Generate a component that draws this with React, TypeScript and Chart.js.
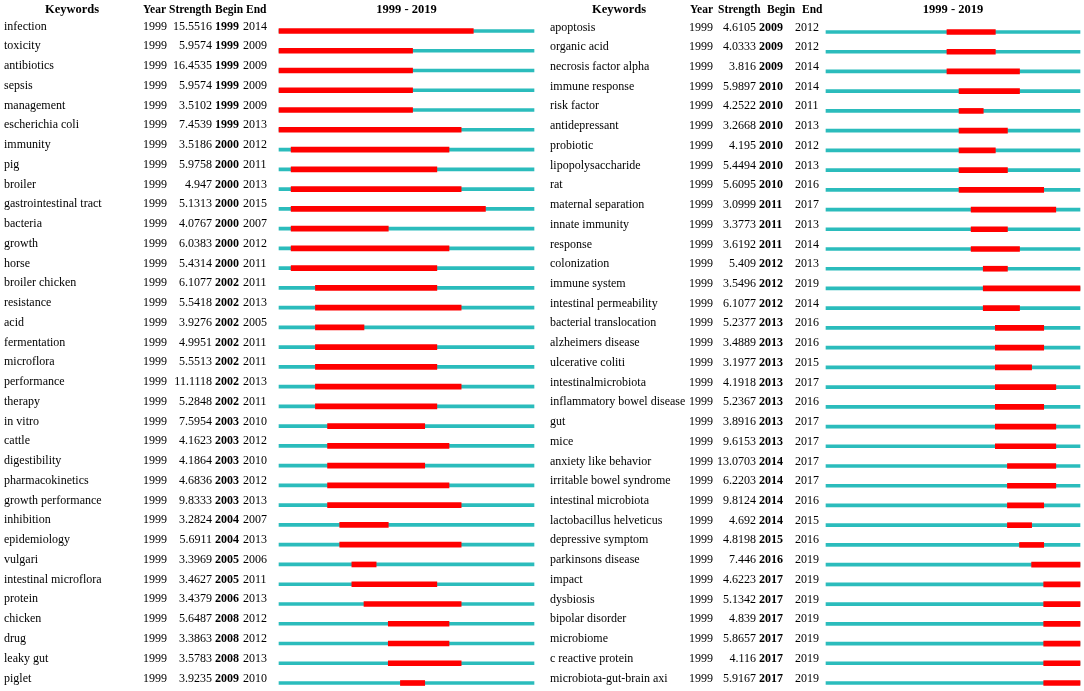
import React, { useEffect, useRef } from 'react';
import { Chart, registerables } from 'chart.js';

Chart.register(...registerables);

const RANGE_START = 1999;
const RANGE_END = 2019;

const leftKeywords = [
  'infection', 'toxicity', 'antibiotics', 'sepsis', 'management', 'escherichia coli',
  'immunity', 'pig', 'broiler', 'gastrointestinal tract', 'bacteria', 'growth', 'horse',
  'broiler chicken', 'resistance', 'acid', 'fermentation', 'microflora', 'performance',
  'therapy', 'in vitro', 'cattle', 'digestibility', 'pharmacokinetics', 'growth performance',
  'inhibition', 'epidemiology', 'vulgari', 'intestinal microflora', 'protein', 'chicken',
  'drug', 'leaky gut', 'piglet',
];
const leftYear = [
  1999, 1999, 1999, 1999, 1999, 1999, 1999, 1999, 1999, 1999, 1999, 1999, 1999, 1999, 1999, 1999, 1999,
  1999, 1999, 1999, 1999, 1999, 1999, 1999, 1999, 1999, 1999, 1999, 1999, 1999, 1999, 1999, 1999, 1999,
];
const leftStrength = [
  15.5516, 5.9574, 16.4535, 5.9574, 3.5102, 7.4539, 3.5186, 5.9758, 4.947, 5.1313, 4.0767,
  6.0383, 5.4314, 6.1077, 5.5418, 3.9276, 4.9951, 5.5513, 11.1118, 5.2848, 7.5954, 4.1623,
  4.1864, 4.6836, 9.8333, 3.2824, 5.6911, 3.3969, 3.4627, 3.4379, 5.6487, 3.3863, 3.5783, 3.9235,
];
const leftBegin = [
  1999, 1999, 1999, 1999, 1999, 1999, 2000, 2000, 2000, 2000, 2000, 2000, 2000, 2002, 2002, 2002, 2002,
  2002, 2002, 2002, 2003, 2003, 2003, 2003, 2003, 2004, 2004, 2005, 2005, 2006, 2008, 2008, 2008, 2009,
];
const leftEnd = [
  2014, 2009, 2009, 2009, 2009, 2013, 2012, 2011, 2013, 2015, 2007, 2012, 2011, 2011, 2013, 2005, 2011,
  2011, 2013, 2011, 2010, 2012, 2010, 2012, 2013, 2007, 2013, 2006, 2011, 2013, 2012, 2012, 2013, 2010,
];

const rightKeywords = [
  'apoptosis', 'organic acid', 'necrosis factor alpha', 'immune response', 'risk factor',
  'antidepressant', 'probiotic', 'lipopolysaccharide', 'rat', 'maternal separation',
  'innate immunity', 'response', 'colonization', 'immune system', 'intestinal permeability',
  'bacterial translocation', 'alzheimers disease', 'ulcerative coliti', 'intestinalmicrobiota',
  'inflammatory bowel disease', 'gut', 'mice', 'anxiety like behavior', 'irritable bowel syndrome',
  'intestinal microbiota', 'lactobacillus helveticus', 'depressive symptom', 'parkinsons disease',
  'impact', 'dysbiosis', 'bipolar disorder', 'microbiome', 'c reactive protein',
  'microbiota-gut-brain axi',
];
const rightYear = [
  1999, 1999, 1999, 1999, 1999, 1999, 1999, 1999, 1999, 1999, 1999, 1999, 1999, 1999, 1999, 1999, 1999,
  1999, 1999, 1999, 1999, 1999, 1999, 1999, 1999, 1999, 1999, 1999, 1999, 1999, 1999, 1999, 1999, 1999,
];
const rightStrength = [
  4.6105, 4.0333, 3.816, 5.9897, 4.2522, 3.2668, 4.195, 5.4494, 5.6095, 3.0999, 3.3773, 3.6192,
  5.409, 3.5496, 6.1077, 5.2377, 3.4889, 3.1977, 4.1918, 5.2367, 3.8916, 9.6153, 13.0703, 6.2203,
  9.8124, 4.692, 4.8198, 7.446, 4.6223, 5.1342, 4.839, 5.8657, 4.116, 5.9167,
];
const rightBegin = [
  2009, 2009, 2009, 2010, 2010, 2010, 2010, 2010, 2010, 2011, 2011, 2011, 2012, 2012, 2012, 2013, 2013,
  2013, 2013, 2013, 2013, 2013, 2014, 2014, 2014, 2014, 2015, 2016, 2017, 2017, 2017, 2017, 2017, 2017,
];
const rightEnd = [
  2012, 2012, 2014, 2014, 2011, 2013, 2012, 2013, 2016, 2017, 2013, 2014, 2013, 2019, 2014, 2016, 2016,
  2015, 2017, 2016, 2017, 2017, 2017, 2017, 2016, 2015, 2016, 2019, 2019, 2019, 2019, 2019, 2019, 2019,
];

const headerLabels = ['Keywords', 'Year', 'Strength', 'Begin', 'End'];

const RED = '#ff0000';
const CYAN = '#2bbcbc';
const FONT = '"Liberation Serif", "Times New Roman", serif';

type Layout = {
  kwX: number; kwHeaderCenter: number; yearX: number; yearHeaderX: number;
  strengthRight: number; strengthHeaderX: number; beginX: number; beginHeaderX: number;
  endX: number; endHeaderX: number; padLeft: number; padRight: number; padTop: number;
};

type Panel = {
  keywords: string[]; year: number[]; strength: number[]; begin: number[]; end: number[]; layout: Layout;
};

function makeTextPlugin(p: Panel) {
  return {
    id: 'burstTable',
    afterDraw(chart: any) {
      const ctx = chart.ctx as CanvasRenderingContext2D;
      const ys = chart.scales.y;
      const area = chart.chartArea;
      const L = p.layout;
      ctx.save();
      ctx.fillStyle = '#000';
      ctx.textBaseline = 'alphabetic';
      // headers
      const hy = 13;
      ctx.font = `bold 12.5px ${FONT}`;
      ctx.textAlign = 'center';
      ctx.fillText(headerLabels[0], L.kwHeaderCenter, hy);
      ctx.fillText(`${RANGE_START} - ${RANGE_END}`, (area.left + area.right) / 2, hy);
      ctx.font = `bold 11.5px ${FONT}`;
      ctx.textAlign = 'left';
      ctx.fillText(headerLabels[1], L.yearHeaderX, hy);
      ctx.fillText(headerLabels[2], L.strengthHeaderX, hy);
      ctx.fillText(headerLabels[3], L.beginHeaderX, hy);
      ctx.fillText(headerLabels[4], L.endHeaderX, hy);
      // rows
      p.keywords.forEach((kw, i) => {
        const y = ys.getPixelForValue(i) - 1.5;
        ctx.font = `12px ${FONT}`;
        ctx.textAlign = 'left';
        ctx.fillText(kw, L.kwX, y);
        ctx.fillText(String(p.year[i]), L.yearX, y);
        ctx.fillText(String(p.end[i]), L.endX, y);
        ctx.textAlign = 'right';
        ctx.fillText(String(p.strength[i]), L.strengthRight, y);
        ctx.font = `bold 12px ${FONT}`;
        ctx.textAlign = 'left';
        ctx.fillText(String(p.begin[i]), L.beginX, y);
      });
      ctx.restore();
    },
  };
}

function BurstPanel({ panel, width, height }: { panel: Panel; width: number; height: number }) {
  const ref = useRef<HTMLCanvasElement | null>(null);
  useEffect(() => {
    if (!ref.current) return;
    const p = panel;
    const chart = new Chart(ref.current, {
      type: 'bar',
      data: {
        labels: p.keywords,
        datasets: [
          {
            label: 'burst',
            data: p.begin.map((b, i) => [b, p.end[i] + 1]) as any,
            backgroundColor: RED,
            barThickness: 5,
            grouped: false,
            order: 0,
            clip: false as any,
          } as any,
          {
            label: 'span',
            data: p.keywords.map(() => [RANGE_START, RANGE_END + 1]) as any,
            backgroundColor: CYAN,
            barThickness: 3,
            grouped: false,
            order: 1,
            clip: false as any,
          } as any,
        ],
      },
      options: {
        indexAxis: 'y',
        animation: false,
        responsive: false,
        maintainAspectRatio: false,
        layout: {
          padding: { left: p.layout.padLeft, right: p.layout.padRight, top: p.layout.padTop, bottom: 8 },
        },
        scales: {
          x: { type: 'linear', min: RANGE_START, max: RANGE_END + 1, display: false },
          y: { type: 'category', offset: false, display: false },
        },
        plugins: { legend: { display: false }, tooltip: { enabled: false } },
      } as any,
      plugins: [makeTextPlugin(p)],
    });
    return () => chart.destroy();
  }, [panel]);
  return <canvas ref={ref} width={width} height={height} style={{ display: 'block', width, height }} />;
}

const leftPanel: Panel = {
  keywords: leftKeywords, year: leftYear, strength: leftStrength, begin: leftBegin, end: leftEnd,
  layout: {
    kwX: 4, kwHeaderCenter: 72, yearX: 143, yearHeaderX: 143, strengthRight: 212, strengthHeaderX: 169,
    beginX: 215, beginHeaderX: 215, endX: 243, endHeaderX: 246, padLeft: 279, padRight: 8, padTop: 31,
  },
};

const rightPanel: Panel = {
  keywords: rightKeywords, year: rightYear, strength: rightStrength, begin: rightBegin, end: rightEnd,
  layout: {
    kwX: 8, kwHeaderCenter: 77, yearX: 147, yearHeaderX: 148, strengthRight: 214, strengthHeaderX: 176,
    beginX: 217, beginHeaderX: 225, endX: 253, endHeaderX: 260, padLeft: 284, padRight: 4, padTop: 32,
  },
};

export default function App() {
  return (
    <div style={{ position: 'absolute', left: 0, top: 0, width: 1084, height: 691, background: '#fff', display: 'flex' }}>
      <BurstPanel panel={leftPanel} width={542} height={691} />
      <BurstPanel panel={rightPanel} width={542} height={691} />
    </div>
  );
}
